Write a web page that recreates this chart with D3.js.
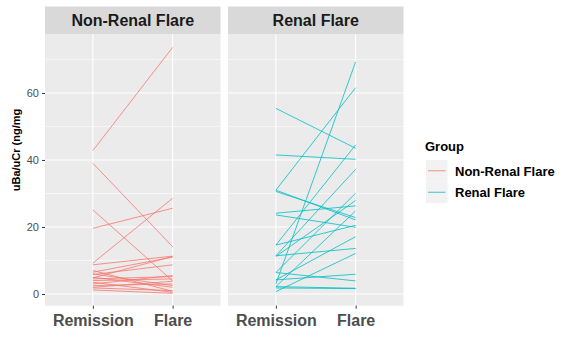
<!DOCTYPE html>
<html><head><meta charset="utf-8">
<script src="https://cdn.jsdelivr.net/npm/d3@7"></script>
<style>body{margin:0;background:#fff}svg{display:block}</style>
</head><body>
<svg id="c" width="573" height="355"></svg>
<script>
const facets = ["Non-Renal Flare", "Renal Flare"];
const timepoints = ["Remission", "Flare"];
const yTicks = [0, 20, 40, 60];
const yMinor = [10, 30, 50, 70];
// [Remission, Flare] per subject
const nonRenal = [
  [42.8, 73.6], [39.0, 14.1], [25.1, 3.9], [19.6, 25.6], [9.2, 28.6],
  [8.7, 11.3], [6.5, 11.0], [5.8, 8.7], [5.0, 2.0], [4.5, 5.2],
  [4.0, 4.5], [3.5, 0.5], [3.0, 5.5], [2.5, 3.0], [1.8, 1.0],
  [6.0, 2.5], [7.0, 0.8], [4.8, 11.2], [2.0, 3.8], [1.2, 0.2]
];
const renal = [
  [55.4, 43.5], [41.5, 40.2], [31.0, 61.6], [31.0, 22.1], [30.6, 22.8],
  [24.1, 26.3], [23.6, 19.9], [14.6, 44.5], [14.6, 20.5], [11.4, 37.2],
  [11.2, 27.9], [6.4, 30.1], [6.4, 3.9], [4.2, 17.1], [3.0, 69.3],
  [4.2, 5.9], [2.2, 1.7], [1.8, 1.6], [0.7, 12.1], [11.4, 13.6], [2.2, 24.8]
];
const groups = [nonRenal, renal];
const colors = ["#F8766D", "#00BFC4"];

(function () {
const svg = d3.select("#c");
const panelX = [45, 228], panelW = 175.5;
const pTop = 34, pBottom = 305.7;
const y = d3.scaleLinear().domain([-3.5, 77.6]).range([pBottom, pTop]);
const FF = "Liberation Sans, Arial, sans-serif";

facets.forEach((f, i) => {
  const x = d3.scalePoint().domain(timepoints).range([panelX[i], panelX[i] + panelW]).padding(0.6);
  const g = svg.append("g");
  g.append("rect").attr("x", panelX[i]).attr("y", 6.5).attr("width", panelW).attr("height", pTop - 6.5).attr("fill", "#D9D9D9");
  g.append("text").attr("x", panelX[i] + panelW / 2).attr("y", 26).attr("text-anchor", "middle")
    .attr("font-family", FF).attr("font-weight", "bold").attr("font-size", 16)
    .attr("fill", "#1A1A1A").text(f);
  g.append("rect").attr("x", panelX[i]).attr("y", pTop).attr("width", panelW).attr("height", pBottom - pTop).attr("fill", "#EBEBEB");
  yMinor.forEach(v => g.append("line").attr("x1", panelX[i]).attr("x2", panelX[i] + panelW)
    .attr("y1", y(v)).attr("y2", y(v)).attr("stroke", "#fff").attr("stroke-width", 0.55));
  yTicks.forEach(v => g.append("line").attr("x1", panelX[i]).attr("x2", panelX[i] + panelW)
    .attr("y1", y(v)).attr("y2", y(v)).attr("stroke", "#fff").attr("stroke-width", 1.1));
  timepoints.forEach(t => g.append("line").attr("x1", x(t)).attr("x2", x(t))
    .attr("y1", pTop).attr("y2", pBottom).attr("stroke", "#fff").attr("stroke-width", 1.1));
  const line = d3.line().x(d => x(d.t)).y(d => y(d.v));
  groups[i].forEach(p => {
    g.append("path").attr("d", line(timepoints.map((t, k) => ({ t, v: p[k] }))))
      .attr("fill", "none").attr("stroke", colors[i]).attr("stroke-width", 0.8);
  });
  const xa = g.append("g").attr("transform", `translate(0,${pBottom})`)
    .call(d3.axisBottom(x).tickSize(3).tickPadding(6));
  xa.select(".domain").remove();
  xa.selectAll("line").attr("stroke", "#333");
  xa.selectAll("text").attr("font-family", FF).attr("font-weight", "bold")
    .attr("font-size", 16).attr("fill", "#4D4D4D");
});

const ya = svg.append("g").attr("transform", `translate(${panelX[0]},0)`)
  .call(d3.axisLeft(y).tickValues(yTicks).tickSize(3).tickPadding(3));
ya.select(".domain").remove();
ya.selectAll("line").attr("stroke", "#333");
ya.selectAll("text").attr("font-family", FF).attr("font-size", 11).attr("fill", "#4D4D4D");

svg.append("text").attr("transform", "translate(20,150) rotate(-90)").attr("text-anchor", "middle")
  .attr("font-family", FF).attr("font-weight", "bold").attr("font-size", 11)
  .attr("fill", "#000").text("uBa/uCr (ng/mg");

const lg = svg.append("g");
lg.append("text").attr("x", 425).attr("y", 151).attr("font-family", FF)
  .attr("font-weight", "bold").attr("font-size", 13).attr("fill", "#000").text("Group");
facets.forEach((f, i) => {
  const yy = 160 + i * 21.5;
  lg.append("rect").attr("x", 426).attr("y", yy).attr("width", 21.5).attr("height", 21.5).attr("fill", "#F2F2F2");
  lg.append("line").attr("x1", 428).attr("x2", 445.5).attr("y1", yy + 10.75).attr("y2", yy + 10.75)
    .attr("stroke", colors[i]).attr("stroke-width", 0.8);
  lg.append("text").attr("x", 455).attr("y", yy + 15.5).attr("font-family", FF)
    .attr("font-weight", "bold").attr("font-size", 13).attr("fill", "#000").text(f);
});
})();
</script>
</body></html>
